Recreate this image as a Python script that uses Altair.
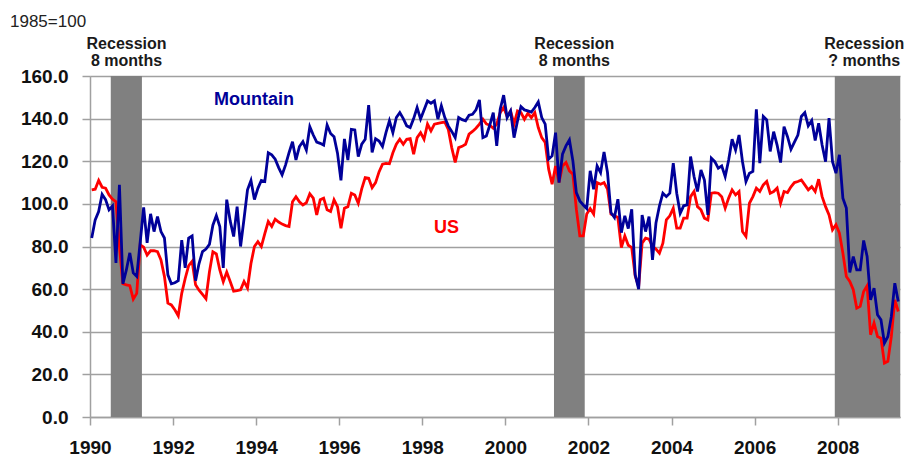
import altair as alt
import pandas as pd

# Monthly index values (1985=100), Jan 1990 - Jun 2009
mountain = [
    84, 92.5, 96.4, 104.5, 102, 97.2, 99, 72.3, 108.9, 62.5, 69, 77,            # 1990
    67.6, 66, 82, 98.3, 81.7, 95.3, 87, 94, 87, 84, 66.7, 62.5,                 # 1991
    63, 64, 83, 70, 84, 85, 64, 72, 77.6, 78.8, 81, 90,                         # 1992
    94.5, 89.4, 70, 102, 92, 84.7, 98.7, 80, 93, 106.6, 111, 102,               # 1993
    107.3, 111, 110.5, 124, 123, 121, 117, 113.6, 118.3, 124, 129.2, 120.6,     # 1994
    126.9, 129.2, 125.3, 136.2, 132.3, 129, 128.4, 127.6, 137, 133, 131.5, 123.8,  # 1995
    111, 130.5, 120.6, 135, 134.7, 122.2, 128, 130.3, 146.3, 124.1, 130.6, 129.5,  # 1996
    126.9, 133.4, 139, 133.4, 140.5, 142.8, 140, 136.6, 135.8, 140, 145.2, 139.8,  # 1997
    144, 148.3, 147.2, 148.3, 139.8, 146, 140.5, 136.6, 134, 131.1, 140.5, 139.5,  # 1998
    139, 141.6, 142, 144.1, 148.8, 131.1, 131.9, 137, 142.8, 127.2, 144.4, 151,    # 1999
    140.5, 143.6, 131.1, 138.9, 145.6, 144.1, 143.6, 143.1, 145.2, 147.8, 140.5, 137.4,  # 2000
    121, 122.5, 133.4, 110, 123.3, 127.2, 130, 120.2, 105.3, 101.4, 99.5, 97.8,    # 2001
    115.5, 106.9, 117.8, 114.7, 124.4, 114.7, 95.9, 93.6, 102.2, 86.5, 94.4, 88.4,  # 2002
    97.5, 66.7, 60, 94.8, 87, 94, 73.7, 91, 99, 105, 103.4, 105,                  # 2003
    119.1, 105, 95.6, 99.1, 99.5, 122.2, 112.8, 105.8, 115.9, 111.2, 94.8, 121.4,  # 2004
    119.8, 116.7, 117.8, 112.8, 120.6, 130.3, 125.3, 132.3, 119.8, 110.5, 114.4, 115.2,  # 2005
    144.4, 119.1, 141, 139.4, 124.6, 133.9, 127.6, 119.4, 136.2, 131.5, 125.6, 129,  # 2006
    132.3, 141, 142.8, 136.6, 139.1, 129.7, 137.8, 127.6, 119.8, 140.2, 119.8, 114.4,  # 2007
    123, 102.7, 98, 67.8, 75.3, 69, 69, 82.8, 75.3, 55, 60.5, 48,                 # 2008
    45.6, 34.7, 37.8, 47.2, 62.8, 54.2,                                           # 2009
]
us = [
    106.6, 106.9, 111, 107.8, 107.4, 104.2, 102.2, 101, 80, 62.5, 62, 61.6,       # 1990
    55.3, 58, 80.8, 79.7, 76, 78, 78, 77.6, 73.7, 66, 53.4, 52.6,                 # 1991
    50.3, 47.5, 58, 65, 71, 73, 62, 59.5, 57.5, 55.5, 68, 77.5,                   # 1992
    76.5, 69, 63.5, 68, 63.6, 59, 59.3, 59.7, 63.6, 60.5, 72, 80,                 # 1993
    82.3, 80, 86, 91.7, 89.4, 92.8, 91.5, 90.5, 89.8, 89.4, 101, 103.4,           # 1994
    101, 99.5, 100.5, 104.7, 102.7, 94.8, 101.9, 102.7, 97.2, 96.4, 101.9, 98.7,  # 1995
    88.6, 98, 98.7, 105, 104.2, 100.3, 107, 112.3, 112, 107.6, 110, 115,          # 1996
    118.6, 119, 118.8, 124, 128, 130.3, 128, 130.3, 130.6, 123.3, 131.1, 133.4,   # 1997
    130.3, 137.4, 134.2, 137.4, 137.8, 138.1, 138.4, 135, 126.4, 119.4, 126.4, 127,  # 1998
    128, 132.7, 134, 135.5, 137.4, 139.7, 137.5, 136.9, 135.5, 137.4, 142.8, 145.2,  # 1999
    141, 143.6, 137.4, 143.6, 142.8, 139.7, 142.5, 140.5, 142.8, 135.8, 131.1, 128.8,  # 2000
    116.3, 109.2, 117.8, 110, 117.8, 119.4, 115.5, 113.9, 97.5, 85, 85, 95.2,     # 2001
    97.8, 95.2, 110, 109.2, 110, 106.9, 95.2, 94.4, 93.6, 79.5, 85, 80.6,         # 2002
    79.5, 66.2, 61.2, 81.6, 83.9, 83.4, 80, 78.8, 76.9, 81.6, 92.5, 94.4,         # 2003
    98, 88.6, 88.6, 93.3, 93.3, 103.4, 105.8, 98.7, 97.2, 93.3, 92.5, 105,        # 2004
    105.3, 105, 103.4, 98, 102.7, 106.6, 104.2, 105.8, 87, 84.7, 100.3, 103.4,    # 2005
    107.4, 105.8, 108.9, 110.5, 105, 105.8, 107.4, 100.3, 105.8, 105.3, 108, 110, # 2006
    110.5, 111.2, 108.9, 106.6, 108.1, 105.8, 111.6, 103.4, 98.7, 94.8, 87.8, 90.2,  # 2007
    86.3, 76.9, 65.9, 63.6, 59.7, 51.1, 51.9, 58.9, 61.6, 38.6, 44.1, 37.8,       # 2008
    37, 25.3, 26.1, 37.8, 55, 49.5,                                               # 2009
]
start_year = 1990

rec_start = [1990.5, 2001.17, 2007.93]
rec_end = [1991.25, 2001.91, 2009.5]
rec_label_x = [1990.88, 2001.66, 2008.64]
rec_line1 = ["Recession", "Recession", "Recession"]
rec_line2 = ["8 months", "8 months", "? months"]

x_ticks = list(range(1990, 2009, 2))
y_ticks = [0, 20, 40, 60, 80, 100, 120, 140, 160]

series_labels = ["Mountain", "US"]
series_colors = ["#000099", "#FF0000"]
series_label_x = [1993.95, 1998.58]
series_label_y = [148.8, 88.5]

n = len(mountain)
t = [start_year + (i + 0.5) / 12 for i in range(n)]
df = pd.DataFrame({"t": t, "Mountain": mountain, "US": us})

rec = pd.DataFrame({"start": rec_start, "end": rec_end})
rec_text = pd.DataFrame({
    "x": rec_label_x * 2,
    "y": [175] * 3 + [167] * 3,
    "txt": rec_line1 + rec_line2,
})
lab = pd.DataFrame({"x": series_label_x, "y": series_label_y,
                    "txt": series_labels, "c": series_colors})

AX_FONT = "Liberation Sans"
xscale = alt.Scale(domain=[1990, 2009.5], nice=False, zero=False)
yscale = alt.Scale(domain=[0, 160], nice=False)

xaxis = alt.Axis(values=x_ticks, format="d", grid=False, tickSize=8,
                 tickColor="#a0a0a0", tickWidth=1.5, domainColor="#a0a0a0",
                 domainWidth=1.5, labelFont=AX_FONT, labelFontSize=19,
                 labelFontWeight="bold", labelColor="#111111", labelPadding=13,
                 labelFlush=False, labelOverlap=False, title=None)
yaxis = alt.Axis(values=y_ticks, format=".1f", grid=True, gridColor="#a0a0a0",
                 gridWidth=1.5, tickSize=8, tickColor="#a0a0a0", tickWidth=1.5,
                 domainColor="#a0a0a0", domainWidth=1.5, labelFont=AX_FONT,
                 labelFontSize=19, labelFontWeight="bold", labelColor="#111111",
                 labelPadding=14, labelFlush=False, labelOverlap=False, title=None)

bars = alt.Chart(rec).mark_rect(color="#808080").encode(
    x=alt.X("start:Q", scale=xscale, axis=xaxis),
    x2="end:Q",
    y=alt.Y(datum=0, scale=yscale, axis=yaxis),
    y2=alt.Y2(datum=160),
)

line_us = alt.Chart(df).mark_line(color=series_colors[1], strokeWidth=2.8).encode(
    x=alt.X("t:Q", scale=xscale),
    y=alt.Y("US:Q", scale=yscale),
)
line_mt = alt.Chart(df).mark_line(color=series_colors[0], strokeWidth=2.8).encode(
    x=alt.X("t:Q", scale=xscale),
    y=alt.Y("Mountain:Q", scale=yscale),
)

rec_labels = alt.Chart(rec_text).mark_text(
    font="Liberation Sans", fontSize=16, fontWeight="bold",
    color="#1a1a1a", align="center", baseline="middle", clip=False,
).encode(x=alt.X("x:Q", scale=xscale), y=alt.Y("y:Q", scale=yscale), text="txt:N")

ser_labels = alt.Chart(lab).mark_text(
    font="Liberation Sans", fontSize=18, fontWeight="bold",
    align="center", baseline="middle",
).encode(x=alt.X("x:Q", scale=xscale), y=alt.Y("y:Q", scale=yscale),
         text="txt:N", color=alt.Color("c:N", scale=None))

unit = alt.Chart(pd.DataFrame({"txt": ["1985=100"]})).mark_text(
    font="Liberation Sans", fontSize=17, align="left",
    baseline="middle", color="#222222",
).encode(x=alt.value(-80), y=alt.value(-54), text="txt:N")

chart = alt.layer(bars, line_us, line_mt, rec_labels, ser_labels, unit).properties(
    width=810, height=341,
    autosize=alt.AutoSizeParams(type="none"),
    padding={"left": 82, "top": 68, "right": 5, "bottom": 40},
).configure_view(stroke=None).configure(background="white")

chart.save("out.html", embed_options={"renderer": "svg", "actions": False})
